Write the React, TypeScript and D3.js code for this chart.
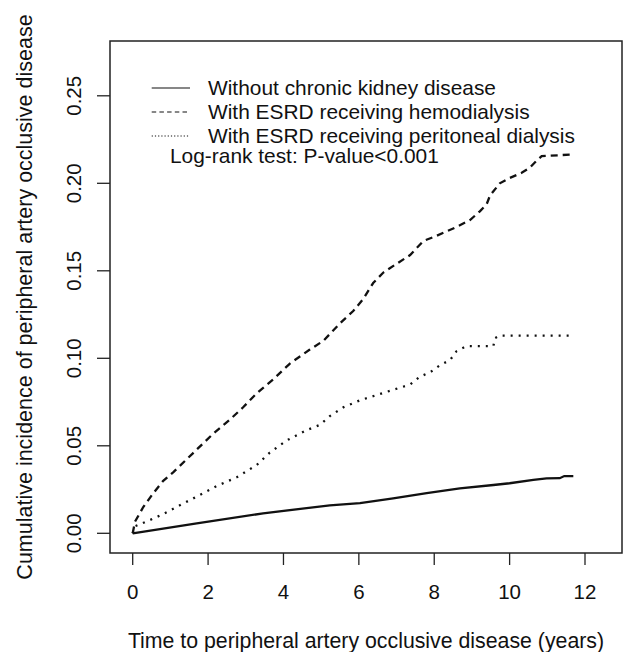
import React from "react";
import * as d3 from "d3";

const WIDTH = 628;
const HEIGHT = 652;
const BOX = { left: 110, right: 622, top: 41, bottom: 553 };
const FONT = "'Liberation Sans', Arial, sans-serif";

// cumulative incidence: [years, incidence]
const withoutCkd = [
  [0, 0], [1.7, 0.0057], [3.46, 0.0114], [5.23, 0.016], [6.03, 0.0172],
  [6.91, 0.02], [7.8, 0.0229], [8.68, 0.0257], [9.57, 0.0276], [10.0, 0.0286],
  [10.63, 0.0305], [10.98, 0.0314], [11.33, 0.0315], [11.45, 0.0327], [11.69, 0.0327],
];

const hemodialysis = [
  [0, 0], [0.06, 0.0066], [0.28, 0.015], [0.55, 0.023], [0.81, 0.03], [1.08, 0.035],
  [1.61, 0.046], [2.14, 0.057], [2.58, 0.065], [2.93, 0.072], [3.29, 0.08],
  [3.73, 0.088], [4.17, 0.097], [4.7, 0.105], [5.06, 0.11], [5.5, 0.12],
  [5.85, 0.127], [6.12, 0.134], [6.38, 0.143], [6.65, 0.149], [7.0, 0.154],
  [7.36, 0.159], [7.71, 0.167], [8.06, 0.17], [8.59, 0.175], [8.95, 0.179],
  [9.21, 0.184], [9.39, 0.188], [9.48, 0.193], [9.74, 0.2], [10.0, 0.203],
  [10.32, 0.206], [10.54, 0.209], [10.72, 0.213], [10.85, 0.2155], [11.69, 0.2165],
];

const peritoneal = [
  [0, 0], [0.06, 0.004], [0.46, 0.0076], [0.81, 0.011], [1.25, 0.016], [1.7, 0.021],
  [2.23, 0.027], [2.76, 0.032], [3.29, 0.039], [3.63, 0.046], [4.08, 0.053],
  [4.62, 0.059], [4.97, 0.062], [5.23, 0.067], [5.59, 0.072], [6.03, 0.076],
  [6.47, 0.079], [6.91, 0.082], [7.36, 0.085], [7.62, 0.0895], [7.89, 0.092],
  [8.15, 0.096], [8.42, 0.099], [8.59, 0.104], [8.86, 0.107], [9.57, 0.107],
  [9.61, 0.1115], [9.74, 0.113], [11.69, 0.113],
];

const xTicks = [0, 2, 4, 6, 8, 10, 12];
const yTicks = [0, 0.05, 0.1, 0.15, 0.2, 0.25];

const legendLabels = [
  "Without chronic kidney disease",
  "With ESRD receiving hemodialysis",
  "With ESRD receiving peritoneal dialysis",
];
const testLabel = "Log-rank test: P-value<0.001";

const series = [
  { data: withoutCkd, dash: null, legendDash: null },
  { data: hemodialysis, dash: "7,5", legendDash: "4.5,3.2" },
  { data: peritoneal, dash: "2,6", legendDash: "1.2,2" },
];

export default function App() {
  const x = d3.scaleLinear().domain([0, 12]).range([132.7, 585]);
  const y = d3.scaleLinear().domain([0, 0.25]).range([533.3, 95.8]);

  const line = d3
    .line<number[]>()
    .x((d) => x(d[0]))
    .y((d) => y(d[1]));

  const ink = "#111";
  const legendRows = [95, 119, 143];

  return (
    <div>
      <style>{`body{margin:0}`}</style>
      <svg width={WIDTH} height={HEIGHT} style={{ display: "block", background: "#fff" }}>
        <rect
          x={BOX.left}
          y={BOX.top}
          width={BOX.right - BOX.left}
          height={BOX.bottom - BOX.top}
          fill="none"
          stroke="#222"
          strokeWidth={1.5}
        />

        {/* y axis */}
        {yTicks.map((t) => (
          <g key={"y" + t}>
            <line x1={97} x2={BOX.left} y1={y(t)} y2={y(t)} stroke="#222" strokeWidth={1.3} />
            <text
              transform={`translate(81,${y(t)}) rotate(-90)`}
              textAnchor="middle"
              fontFamily={FONT}
              fontSize={20.5}
              fill={ink}
            >
              {t.toFixed(2)}
            </text>
          </g>
        ))}

        {/* x axis */}
        {xTicks.map((t) => (
          <g key={"x" + t}>
            <line x1={x(t)} x2={x(t)} y1={BOX.bottom} y2={565} stroke="#222" strokeWidth={1.3} />
            <text x={x(t)} y={599} textAnchor="middle" fontFamily={FONT} fontSize={20.5} fill={ink}>
              {t}
            </text>
          </g>
        ))}

        <text
          transform={`translate(32,${(BOX.top + BOX.bottom) / 2}) rotate(-90)`}
          textAnchor="middle"
          fontFamily={FONT}
          fontSize={21.5}
          fill={ink}
        >
          Cumulative incidence of peripheral artery occlusive disease
        </text>
        <text
          x={(BOX.left + BOX.right) / 2}
          y={648}
          textAnchor="middle"
          fontFamily={FONT}
          fontSize={21.3}
          fill={ink}
        >
          Time to peripheral artery occlusive disease (years)
        </text>

        {/* curves */}
        {series.map((s, i) => (
          <path
            key={i}
            d={line(s.data) || ""}
            fill="none"
            stroke={ink}
            strokeWidth={2.3}
            strokeDasharray={s.dash || undefined}
          />
        ))}

        {/* legend */}
        {legendLabels.map((label, i) => (
          <g key={label}>
            <line
              x1={151.7}
              x2={190}
              y1={legendRows[i] - 7}
              y2={legendRows[i] - 7}
              stroke={ink}
              strokeWidth={1.2}
              strokeDasharray={series[i].legendDash || undefined}
            />
            <text x={208} y={legendRows[i]} fontFamily={FONT} fontSize={20.9} fill={ink}>
              {label}
            </text>
          </g>
        ))}
        <text x={170} y={163} fontFamily={FONT} fontSize={20.9} fill={ink}>
          {testLabel}
        </text>
      </svg>
    </div>
  );
}
